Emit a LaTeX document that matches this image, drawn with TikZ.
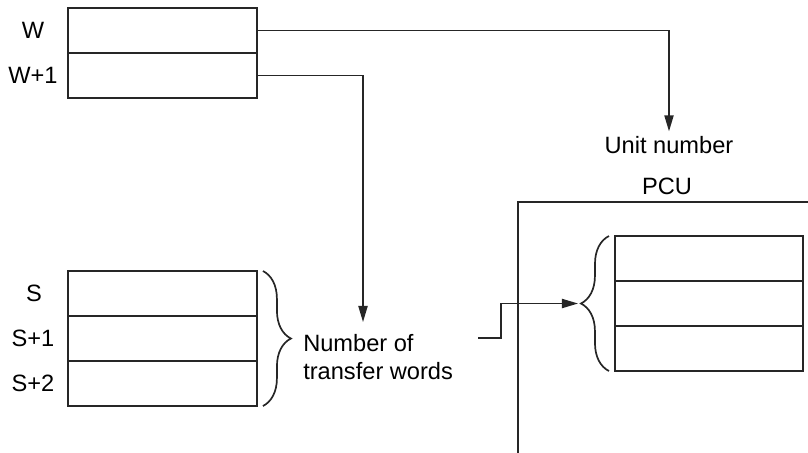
\documentclass[tikz,border=0pt]{standalone}
\usepackage{fontspec}
\setmainfont{Liberation Sans}
\usetikzlibrary{
    arrows.meta,
    positioning,
    calc,
    decorations.pathreplacing
}

\begin{document}
\begin{tikzpicture}[
        x=0.025cm, y=-0.025cm,
        every node/.style={
            font=\fontsize{16.8pt}{19.5pt}\selectfont
        },
        cell/.style={
            rectangle,
            draw=black!85,
            line width=1pt,
            minimum width=4.72cm,
            minimum height=1.125cm,
            inner sep=0pt,
            outer sep=0pt
        },
        addr/.style={
            anchor=center,
            inner sep=0pt
        },
        arrow/.style={
            -{Triangle[length=4mm,width=2.3mm]},
            line width=1pt,
            draw=black!85
        },
        bracket/.style={
            decorate,
            decoration={brace, amplitude=0.7cm},
            line width=1.2pt,
            draw=black!85
        },
        frame/.style={
            line width=1.8pt,
            draw=black!85
        }
    ]

    \useasboundingbox (0,0) rectangle (808,453);

    \node[cell] (w0) at (162.5,30.5) {};
    \node[cell, below=0pt of w0] (w1) {};
    \node[addr] (lw0) at (33,30.5) {W};
    \node[addr] (lw1) at (33,75.5) {W+1};

    \node[cell] (s0) at (162.5,293.5) {};
    \node[cell, below=0pt of s0] (s1) {};
    \node[cell, below=0pt of s1] (s2) {};
    \node[addr] (ls0) at (34,293.5) {S};
    \node[addr] (ls1) at (33,338.5) {S+1};
    \node[addr] (ls2) at (33,383.5) {S+2};

    \draw[bracket] ($(s0.north east)+(6,0)$) -- ($(s2.south east)+(6,0)$);

    \node[anchor=west, align=left, inner sep=0pt] (nwords) at (303,357)
        {Number of\\transfer words};

    \node (unit) at (669,145) {Unit number};
    \draw[arrow] (w0.east) -| (unit.north);

    \coordinate (nwin) at (363,322);
    \draw[arrow] (w1.east) -| (nwin);

    \node (pcu) at (667,186) {PCU};
    \coordinate (pcubot) at (518,453);
    \coordinate (pcuright) at (808,202);
    \draw[frame] (pcubot) |- (pcuright);

    \node[cell, minimum width=4.7cm] (p0) at (709,258.5) {};
    \node[cell, minimum width=4.7cm, below=0pt of p0] (p1) {};
    \node[cell, minimum width=4.7cm, below=0pt of p1] (p2) {};

    \draw[bracket] ($(p2.south west)+(-6,0)$) -- ($(p0.north west)+(-6,0)$);

    \coordinate (feed) at (478,338);
    \draw[arrow] (feed) -- ++(23,0) |- ($(p1.west)+(-37,0)$);

\end{tikzpicture}
\end{document}
